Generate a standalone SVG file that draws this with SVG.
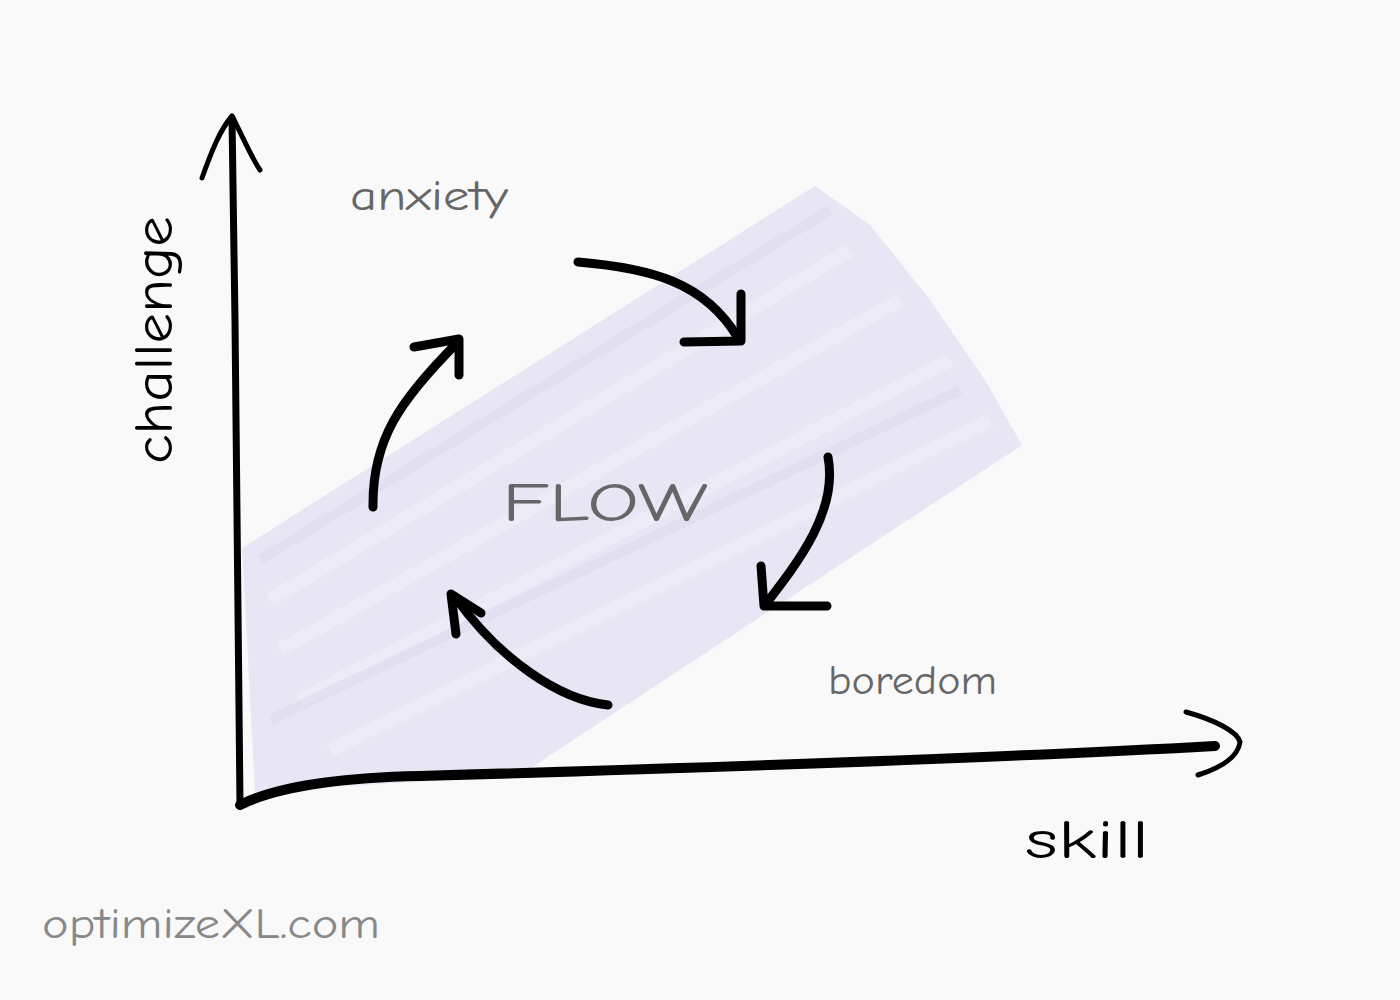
<svg xmlns="http://www.w3.org/2000/svg" width="1400" height="1000" viewBox="0 0 1400 1000">
<style>
.ink{fill:none;stroke:#000;stroke-linecap:round;stroke-linejoin:round}
.cyc{stroke-width:9}
.lbl{font-family:"Comic Neue","DejaVu Sans","Liberation Sans",sans-serif}
.gray{fill:#666}
</style>
<rect width="1400" height="1000" fill="#f9f9f9"/>
<g id="flow-band">
<polygon points="242,548 815,186 870,225 930,300 985,380 1022,445 520,775 255,792" fill="#e6e3f3" opacity="0.9"/>
<path d="M270,600 L850,250 M280,650 L900,300 M300,700 L950,360 M330,750 L990,420" stroke="#eeedf7" stroke-width="14" fill="none" opacity="0.7"/>
<path d="M260,560 L830,210 M270,720 L960,390" stroke="#dcd8ee" stroke-width="10" fill="none" opacity="0.5"/>
</g>
<g id="connectors">
<g id="y-axis">
<path class="ink" d="M240,805 C238,600 236,350 232,118" stroke-width="7"/>
<path class="ink" d="M202,178 C212,150 220,130 232,116 C242,135 250,155 260,170" stroke-width="5"/>
</g>
<g id="x-axis">
<path class="ink" d="M240,805 C270,790 320,778 420,776 C700,768 1000,758 1215,746" stroke-width="10"/>
<path class="ink" d="M1186,712 C1215,720 1238,732 1240,742 C1238,757 1220,768 1198,775" stroke-width="5"/>
</g>
<g id="arrow-top">
<path class="ink cyc" d="M578,262 C650,268 705,282 738,338"/>
<path class="ink cyc" d="M741,294 L741,341 L684,342"/>
</g>
<g id="arrow-right">
<path class="ink cyc" d="M828,457 C838,510 800,560 765,605"/>
<path class="ink cyc" d="M761,566 L764,606 L827,606"/>
</g>
<g id="arrow-bottom">
<path class="ink cyc" d="M608,705 C560,700 500,660 455,597"/>
<path class="ink cyc" d="M456,634 L451,594 L481,613"/>
</g>
<g id="arrow-left">
<path class="ink cyc" d="M373,507 C372,440 400,400 458,342"/>
<path class="ink cyc" d="M414,347 L459,339 L459,375"/>
</g>
</g>
<g id="label-challenge"><text class="lbl" x="0" y="0" font-size="54" fill="#000" text-anchor="middle" textLength="248" lengthAdjust="spacingAndGlyphs" transform="translate(172,340) rotate(-90)">challenge</text></g>
<g id="label-anxiety"><text class="lbl gray" x="350" y="210" font-size="42" textLength="158" lengthAdjust="spacingAndGlyphs">anxiety</text></g>
<g id="label-flow"><text class="lbl gray" x="502" y="521" font-size="54" textLength="206" lengthAdjust="spacingAndGlyphs">FLOW</text></g>
<g id="label-boredom"><text class="lbl gray" x="828" y="694" font-size="40" textLength="169" lengthAdjust="spacingAndGlyphs">boredom</text></g>
<g id="label-skill"><text class="lbl" x="1025" y="858" font-size="54" fill="#000" textLength="124" lengthAdjust="spacingAndGlyphs">skill</text></g>
<g id="label-site"><text class="lbl" x="42" y="938" font-size="42" fill="#888" textLength="338" lengthAdjust="spacingAndGlyphs">optimizeXL.com</text></g>
</svg>
